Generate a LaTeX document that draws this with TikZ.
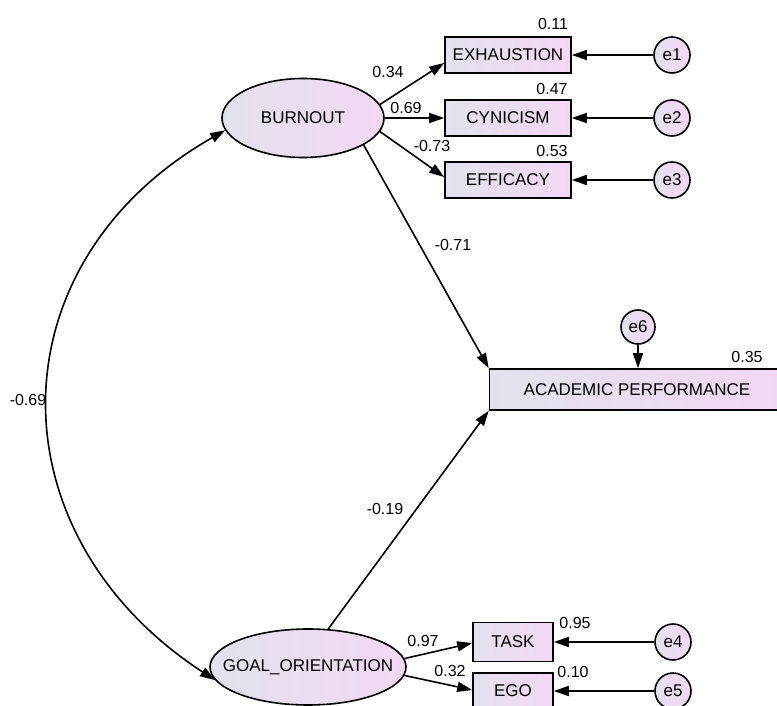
\documentclass[tikz,border=0pt]{standalone}
\usepackage{fontspec}
\setmainfont{Liberation Sans}
\usetikzlibrary{arrows.meta,calc,shapes.geometric}
\definecolor{gl}{HTML}{E2E2EE}
\definecolor{gr}{HTML}{F4D8F4}
\begin{document}
\begin{tikzpicture}[x=1pt,y=-1pt,
  shade/.style={left color=gl,right color=gr},
  latent/.style={ellipse,draw,line width=1.6pt,shade,inner sep=0pt,font=\fontsize{17}{19}\selectfont},
  obs/.style={rectangle,draw,line width=1.6pt,shade,inner sep=0pt,font=\fontsize{17}{19}\selectfont},
  err/.style={circle,draw,line width=1.6pt,shade,inner sep=0pt,minimum size=36pt,font=\fontsize{17}{19}\selectfont},
  lab/.style={font=\fontsize{16}{18}\selectfont,inner sep=0pt},
  conn/.style={line width=1.6pt,-{Triangle[length=15pt,width=10pt]}},
  cov/.style={line width=1.6pt,{Triangle[length=15pt,width=10pt]}-{Triangle[length=15pt,width=10pt]}}]
\useasboundingbox (0,0) rectangle (777,706);
\fill[white] (0,0) rectangle (777,706);
\begin{scope}
\clip (0,0) rectangle (777,706);
% latent
\node[latent,minimum width=162pt,minimum height=79pt] (bu) at (303,118) {\makebox[0pt]{BURNOUT}};
\node[latent,minimum width=196pt,minimum height=76pt] (go) at (308,667) {\makebox[0pt]{GOAL\_ORIENTATION}};
% observed
\node[obs,minimum width=126pt,minimum height=36pt] (ex) at (508,55) {EXHAUSTION};
\node[obs,minimum width=126pt,minimum height=36pt] (cy) at (508,118) {CYNICISM};
\node[obs,minimum width=126pt,minimum height=36pt] (ef) at (508,180) {EFFICACY};
\node[obs,minimum width=80pt,minimum height=39pt] (ta) at (513,642) {TASK};
\node[obs,minimum width=80pt,minimum height=36pt] (eg) at (513,691) {EGO};
\node[obs,minimum width=295pt,minimum height=41pt] (ap) at (637,389.5) {ACADEMIC PERFORMANCE};
% errors
\node[err] (e1) at (672,55) {e1};
\node[err] (e2) at (672,118) {e2};
\node[err] (e3) at (672,180) {e3};
\node[err] (e4) at (673,642) {e4};
\node[err] (e5) at (673,691) {e5};
\node[err,minimum size=34pt] (e6) at (638,327) {e6};
% connectors
\draw[conn] (bu.10) -- ($(ex.west)+(0,8)$);
\draw[conn] (bu.east) -- (cy.west);
\draw[conn] (bu.-10) -- ($(ef.west)+(0,-3)$);
\draw[conn] (bu.-24) -- (ap.north west);
\draw[conn] (go.62) -- (ap.south west);
\draw[conn] (go.5) -- ($(ta.west)+(0,1)$);
\draw[conn] (go.-5) -- ($(eg.west)+(0,-1)$);
\draw[conn] (e1) -- (ex);
\draw[conn] (e2) -- (cy);
\draw[conn] (e3) -- (ef);
\draw[conn] (e4) -- (ta);
\draw[conn] (e5) -- (eg);
\draw[conn] (e6.south) -- (e6.south |- ap.north);
\draw[cov] (bu.189) .. controls (-8,263) and (-9,534) .. (go.188);
\end{scope}
% labels
\node[lab] (l1) at (553,24) {0.11};
\node[lab] (l2) at (552,89) {0.47};
\node[lab] (l3) at (552,151) {0.53};
\node[lab] (l4) at (388,72) {0.34};
\node[lab] (l5) at (406,108) {0.69};
\node[lab] (l6) at (432,146) {-0.73};
\node[lab] (l7) at (453,245) {-0.71};
\node[lab] (l8) at (385,509) {-0.19};
\node[lab] (l9) at (28,400) {-0.69};
\node[lab] (l10) at (747,357) {0.35};
\node[lab] (l11) at (423,641) {0.97};
\node[lab] (l12) at (450,671) {0.32};
\node[lab] (l13) at (575,623) {0.95};
\node[lab] (l14) at (573,672) {0.10};
\end{tikzpicture}
\end{document}
